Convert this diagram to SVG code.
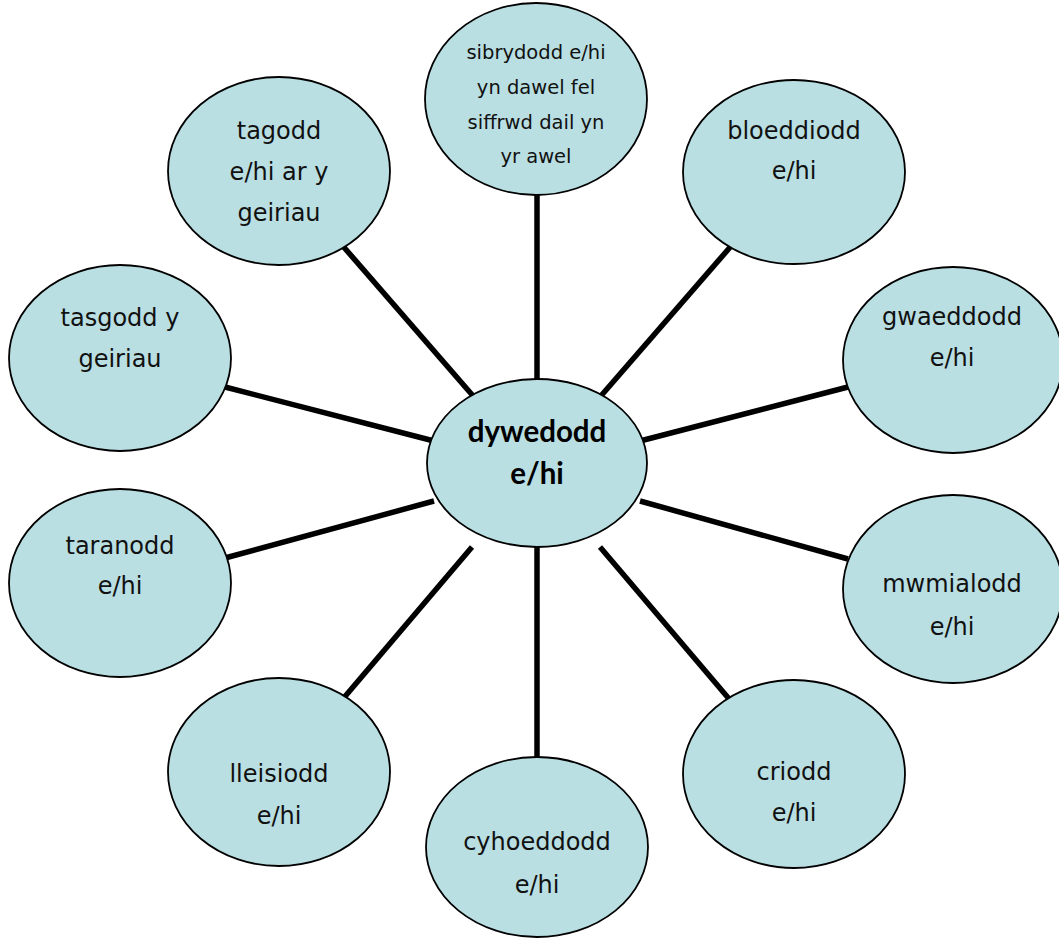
<svg xmlns="http://www.w3.org/2000/svg" width="1059" height="938" viewBox="0 0 1059 938">
<style>
.n{fill:#b9dfe3;stroke:#000;stroke-width:1.8}
.t{font-family:"DejaVu Sans","Noto Sans",sans-serif;font-size:24px;fill:#111;text-anchor:middle}
.s{font-size:19.5px}
.c{font-family:Lato,"Open Sans","Liberation Sans",sans-serif;font-size:29.5px;font-weight:bold;fill:#000;text-anchor:middle}
.e line{stroke:#000;stroke-width:5.5}
</style>
<rect width="1059" height="938" fill="#fff"/>
<g id="connectors" class="e">
<line x1="537" y1="190" x2="537" y2="385"/>
<line x1="732" y1="245" x2="600" y2="397"/>
<line x1="848" y1="387" x2="640" y2="441"/>
<line x1="848" y1="559" x2="640" y2="501"/>
<line x1="730" y1="700" x2="600" y2="547"/>
<line x1="537" y1="540" x2="537" y2="760"/>
<line x1="342" y1="700" x2="472" y2="547"/>
<line x1="225" y1="558" x2="434" y2="501"/>
<line x1="225" y1="387" x2="434" y2="441"/>
<line x1="342" y1="245" x2="474" y2="397"/>
</g>
<g id="node-center"><ellipse class="n" cx="537" cy="463" rx="110" ry="84"/><text class="c" x="537" y="442">dywedodd</text><text class="c" x="537" y="484">e/hi</text></g>
<g id="node-sibrydodd"><ellipse class="n" cx="536" cy="99" rx="111" ry="96"/><text class="t s" x="536" y="59">sibrydodd e/hi</text><text class="t s" x="536" y="94">yn dawel fel</text><text class="t s" x="536" y="129">siffrwd dail yn</text><text class="t s" x="536" y="163">yr awel</text></g>
<g id="node-bloeddiodd"><ellipse class="n" cx="794" cy="172" rx="111" ry="92"/><text class="t" x="794" y="139">bloeddiodd</text><text class="t" x="794" y="179">e/hi</text></g>
<g id="node-gwaeddodd"><ellipse class="n" cx="953" cy="360" rx="110" ry="93"/><text class="t" x="952" y="325">gwaeddodd</text><text class="t" x="952" y="366">e/hi</text></g>
<g id="node-mwmialodd"><ellipse class="n" cx="953" cy="589" rx="110" ry="94"/><text class="t" x="952" y="592">mwmialodd</text><text class="t" x="952" y="635">e/hi</text></g>
<g id="node-criodd"><ellipse class="n" cx="794" cy="774" rx="111" ry="94"/><text class="t" x="794" y="780">criodd</text><text class="t" x="794" y="821">e/hi</text></g>
<g id="node-cyhoeddodd"><ellipse class="n" cx="537" cy="847" rx="111" ry="90"/><text class="t" x="537" y="850">cyhoeddodd</text><text class="t" x="537" y="893">e/hi</text></g>
<g id="node-lleisiodd"><ellipse class="n" cx="279" cy="772" rx="111" ry="94"/><text class="t" x="279" y="782">lleisiodd</text><text class="t" x="279" y="824">e/hi</text></g>
<g id="node-taranodd"><ellipse class="n" cx="120" cy="583" rx="111" ry="94"/><text class="t" x="120" y="554">taranodd</text><text class="t" x="120" y="594">e/hi</text></g>
<g id="node-tasgodd"><ellipse class="n" cx="120" cy="358" rx="111" ry="93"/><text class="t" x="120" y="326">tasgodd y</text><text class="t" x="120" y="367">geiriau</text></g>
<g id="node-tagodd"><ellipse class="n" cx="279" cy="171" rx="111" ry="94"/><text class="t" x="279" y="139">tagodd</text><text class="t" x="279" y="180">e/hi ar y</text><text class="t" x="279" y="221">geiriau</text></g>
</svg>
